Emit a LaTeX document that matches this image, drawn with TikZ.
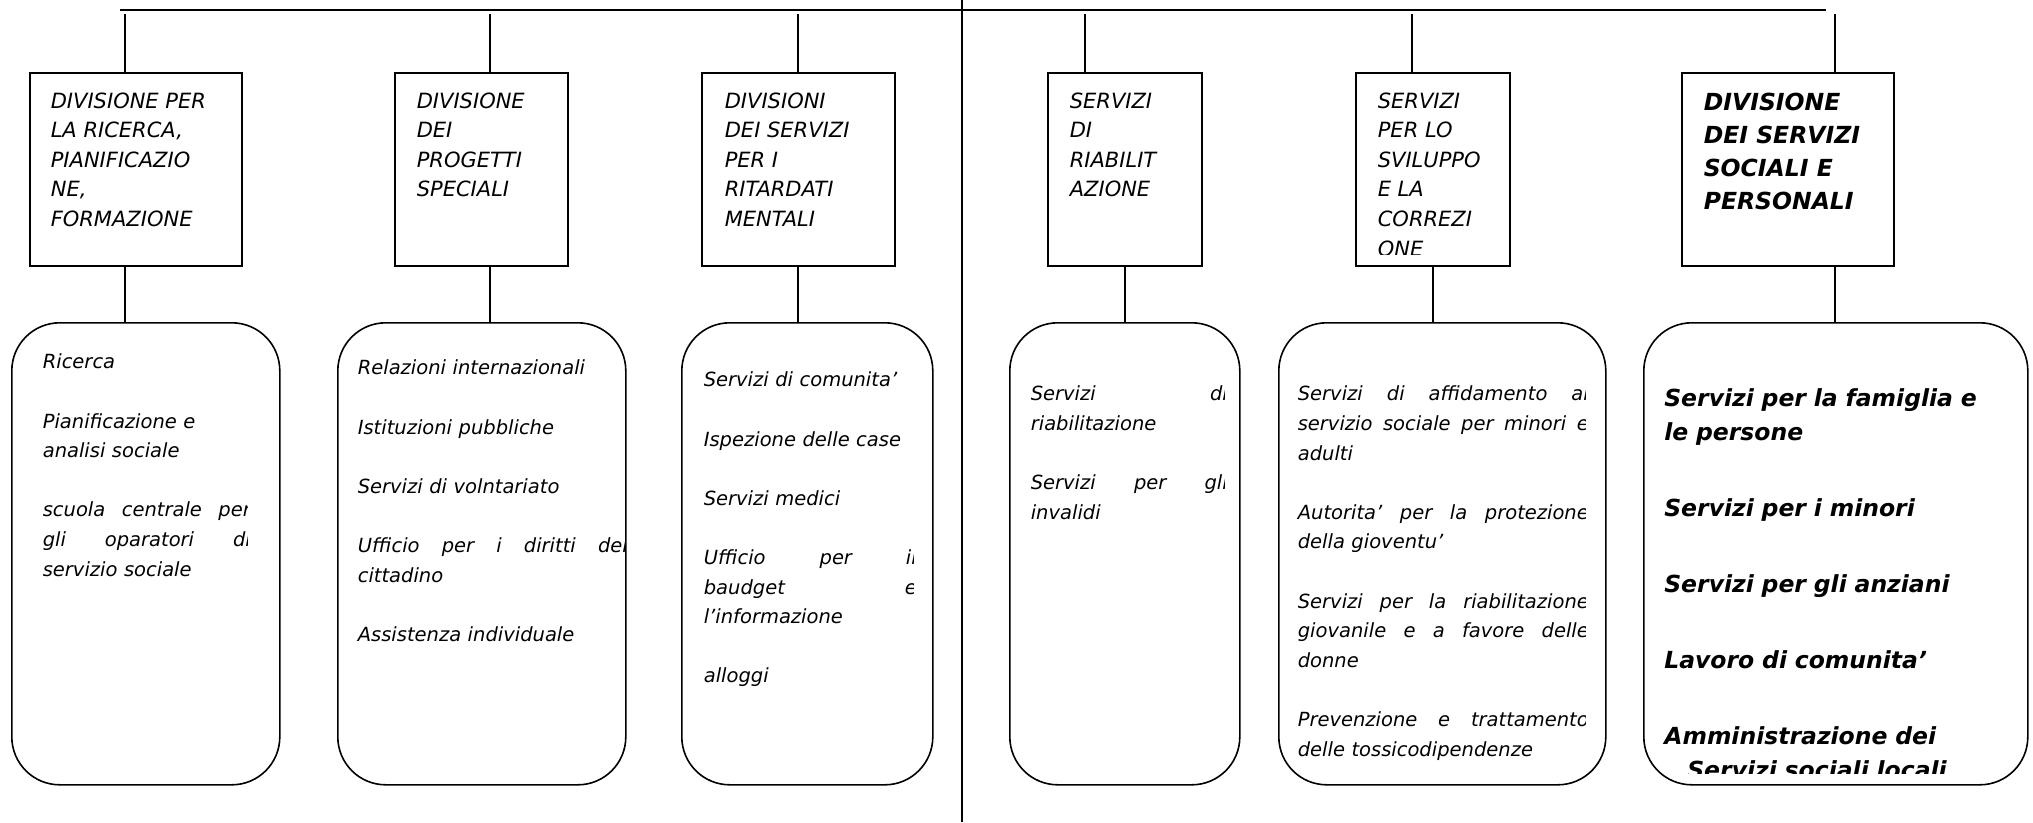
\documentclass[tikz,border=0pt]{standalone}
\usepackage{fontspec}
\setmainfont{DejaVu Sans}
\newcommand{\fillline}[1]{\leavevmode\hbox to\hsize{\spaceskip=0.32em plus 1fil\relax #1}}

\begin{document}
\begin{tikzpicture}[x=1pt, y=-1pt, line width=1.6pt,
    div node/.style={draw, rectangle, inner sep=0pt, anchor=north west, minimum height=193pt},
    serv node/.style={draw, rectangle, rounded corners=48pt, inner sep=0pt, anchor=north west, minimum height=462pt},
    head text/.style={anchor=north west, inner sep=0pt, align=left, font=\fontsize{21}{29.6}\selectfont\itshape},
    list text/.style={anchor=north west, inner sep=0pt, align=left, font=\fontsize{19.5}{29.6}\selectfont\itshape}]

  \useasboundingbox (0,0) rectangle (2033,822);

  % divisions
  \node[div node, minimum width=212pt] (1) at (29,72) {};
  \node[div node, minimum width=173pt] (2) at (394,72) {};
  \node[div node, minimum width=193pt] (3) at (701,72) {};
  \node[div node, minimum width=154pt] (4) at (1047,72) {};
  \node[div node, minimum width=154pt] (5) at (1355,72) {};
  \node[div node, minimum width=212pt] (6) at (1681,72) {};

  % services
  \node[serv node, minimum width=268pt] (7) at (11,322) {};
  \node[serv node, minimum width=288pt] (8) at (337,322) {};
  \node[serv node, minimum width=251pt] (9) at (681,322) {};
  \node[serv node, minimum width=230pt] (10) at (1009,322) {};
  \node[serv node, minimum width=327pt] (11) at (1278,322) {};
  \node[serv node, minimum width=384pt] (12) at (1643,322) {};

  % top line and divider
  \coordinate (l) at (120,9.5);
  \coordinate (r) at (1826,9.5);
  \draw[line width=2pt] (l) -- (r);
  \coordinate (top) at (962,0);
  \coordinate (bottom) at (962,822);
  \draw[line width=1.8pt] (top) -- (bottom);

  \coordinate (c1) at (125,14);
  \coordinate (c2) at (490,14);
  \coordinate (c3) at (798,14);
  \coordinate (c4) at (1085,14);
  \coordinate (c5) at (1412,14);
  \coordinate (c6) at (1835,14);

  \draw (c1) -- (1.north -| c1);
  \draw (c2) -- (2.north -| c2);
  \draw (c3) -- (3.north -| c3);
  \draw (c4) -- (4.north -| c4);
  \draw (c5) -- (5.north -| c5);
  \draw (c6) -- (6.north -| c6);

  \draw (1.south -| c1) -- (7.north -| c1);
  \draw (2.south -| c2) -- (8.north -| c2);
  \draw (3.south -| c3) -- (9.north -| c3);
  \draw (4.south) -- (4.south |- 10.north);
  \draw (5.south) -- (5.south |- 11.north);
  \draw (6.south -| c6) -- (12.north -| c6);

  % division titles
  \node[head text] (t1) at (50,86.5) {\strut DIVISIONE PER\\LA RICERCA,\\PIANIFICAZIO\\NE,\\FORMAZIONE};
  \node[head text] (t2) at (416,86.5) {\strut DIVISIONE\\DEI\\PROGETTI\\SPECIALI};
  \node[head text] (t3) at (724,86.5) {\strut DIVISIONI\\DEI SERVIZI\\PER I\\RITARDATI\\MENTALI};
  \node[head text] (t4) at (1069,86.5) {\strut SERVIZI\\DI\\RIABILIT\\AZIONE};
  \begin{scope}
    \clip (1355,72) rectangle (1509,254);
    \node[head text] (t5) at (1377,86.5) {\strut SERVIZI\\PER LO\\SVILUPPO\\E LA\\CORREZI\\ONE};
  \end{scope}
  \node[head text, font=\fontsize{23.5}{33}\selectfont\bfseries\itshape] (t6) at (1703,86.4)
    {\strut DIVISIONE\\DEI SERVIZI\\SOCIALI E\\PERSONALI};

  % service lists
  \begin{scope}
    \clip (11,322) rectangle (247,784);
    \node[list text, text width=208pt] (s7) at (42,347.3)
      {\strut Ricerca\\[29.6pt]
       Pianificazione e\\analisi sociale\\[29.6pt]
       \fillline{scuola centrale per}\\
       \fillline{gli oparatori di}\\
       servizio sociale};
  \end{scope}
  \begin{scope}
    \clip (337,322) rectangle (624,784);
    \node[list text, text width=270pt] (s8) at (357,353.3)
      {\strut Relazioni internazionali\\[29.6pt]
       Istituzioni pubbliche\\[29.6pt]
       Servizi di volntariato\\[29.6pt]
       \fillline{Ufficio per i diritti del}\\
       cittadino\\[29.6pt]
       Assistenza individuale};
  \end{scope}
  \begin{scope}
    \clip (681,322) rectangle (913,784);
    \node[list text, text width=213pt] (s9) at (703,365.3)
      {\strut Servizi di comunita'\\[29.6pt]
       Ispezione delle case\\[29.6pt]
       Servizi medici\\[29.6pt]
       \fillline{Ufficio per il}\\
       \fillline{baudget e}\\
       l'informazione\\[29.6pt]
       alloggi};
  \end{scope}
  \begin{scope}
    \clip (1009,322) rectangle (1224,784);
    \node[list text, text width=197pt] (s10) at (1030,379.3)
      {\strut\fillline{Servizi di}\\
       riabilitazione\\[29.6pt]
       \fillline{Servizi per gli}\\
       invalidi};
  \end{scope}
  \begin{scope}
    \clip (1278,322) rectangle (1585,784);
    \node[list text, text width=291pt] (s11) at (1297,379.3)
      {\strut\fillline{Servizi di affidamento al}\\
       \fillline{servizio sociale per minori e}\\
       adulti\\[29.6pt]
       \fillline{Autorita' per la protezione}\\
       della gioventu'\\[29.6pt]
       \fillline{Servizi per la riabilitazione}\\
       \fillline{giovanile e a favore delle}\\
       donne\\[29.6pt]
       \fillline{Prevenzione e trattamento}\\
       delle tossicodipendenze};
  \end{scope}
  \begin{scope}
    \clip (1643,322) rectangle (2027,773);
    \node[list text, text width=350pt, font=\fontsize{23.5}{34}\selectfont\bfseries\itshape] (s12) at (1663.5,382.2)
      {\strut Servizi per la famiglia e\\le persone\\[42pt]
       Servizi per i minori\\[42pt]
       Servizi per gli anziani\\[42pt]
       Lavoro di comunita'\\[42pt]
       Amministrazione dei\\
       \hspace*{23pt}Servizi sociali locali};
  \end{scope}

\end{tikzpicture}
\end{document}
